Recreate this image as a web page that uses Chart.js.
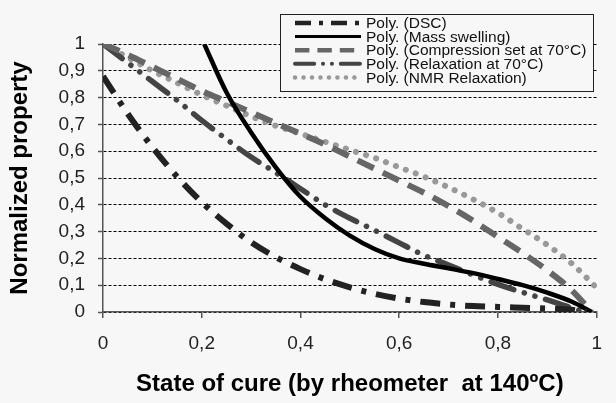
<!DOCTYPE html>
<html>
<head>
<meta charset="utf-8">
<script src="https://cdn.jsdelivr.net/npm/chart.js@4"></script>
<style>
  html, body { margin: 0; padding: 0; background: #f7f7f7; }
  #wrap { width: 616px; height: 403px; }
</style>
</head>
<body>
<div id="wrap"><canvas id="c" width="616" height="403"></canvas></div>
<script>
// axis ticks
const xTicks = [0, 0.2, 0.4, 0.6, 0.8, 1];
const yTicks = [0, 0.1, 0.2, 0.3, 0.4, 0.5, 0.6, 0.7, 0.8, 0.9, 1];

// trend curves (state of cure -> normalized property)
const dscX = [0, 0.05, 0.1, 0.15, 0.2, 0.25, 0.3, 0.35, 0.4, 0.45, 0.5, 0.55, 0.6, 0.65, 0.7, 0.75, 0.8, 0.85, 0.9, 0.95, 0.98];
const dscY = [0.88, 0.74, 0.615, 0.505, 0.41, 0.33, 0.26, 0.205, 0.16, 0.122, 0.092, 0.068, 0.05, 0.037, 0.028, 0.022, 0.019, 0.016, 0.013, 0.008, 0];

const swellX = [0.205, 0.25, 0.3, 0.35, 0.4, 0.45, 0.5, 0.55, 0.6, 0.65, 0.7, 0.75, 0.8, 0.85, 0.9, 0.95, 0.99];
const swellY = [1.0, 0.82, 0.67, 0.54, 0.43, 0.35, 0.285, 0.235, 0.2, 0.18, 0.163, 0.145, 0.123, 0.1, 0.072, 0.038, 0];

const compX = [0, 0.05, 0.1, 0.15, 0.2, 0.25, 0.3, 0.35, 0.4, 0.45, 0.5, 0.55, 0.6, 0.65, 0.7, 0.75, 0.8, 0.85, 0.9, 0.95, 0.99];
const compY = [1.0, 0.96, 0.915, 0.87, 0.825, 0.785, 0.745, 0.705, 0.665, 0.625, 0.58, 0.535, 0.49, 0.445, 0.395, 0.34, 0.28, 0.22, 0.155, 0.08, 0];

const relaxX = [0, 0.05, 0.1, 0.15, 0.2, 0.25, 0.3, 0.35, 0.4, 0.45, 0.5, 0.55, 0.6, 0.65, 0.7, 0.75, 0.8, 0.85, 0.9, 0.95, 0.975];
const relaxY = [1.0, 0.93, 0.86, 0.79, 0.715, 0.645, 0.578, 0.52, 0.46, 0.40, 0.35, 0.305, 0.258, 0.212, 0.175, 0.138, 0.103, 0.073, 0.045, 0.015, 0];

const nmrX = [0, 0.05, 0.1, 0.15, 0.2, 0.25, 0.3, 0.35, 0.4, 0.45, 0.5, 0.55, 0.6, 0.65, 0.7, 0.75, 0.8, 0.85, 0.9, 0.95, 1.0];
const nmrY = [1.0, 0.95, 0.9, 0.855, 0.81, 0.77, 0.73, 0.695, 0.665, 0.635, 0.605, 0.575, 0.54, 0.505, 0.465, 0.42, 0.37, 0.31, 0.25, 0.18, 0.09];

const names = ["Poly. (DSC)", "Poly. (Mass swelling)", "Poly. (Compression set at 70°C)", "Poly. (Relaxation at 70°C)", "Poly. (NMR Relaxation)"];

const BG = "#f7f7f7";
const FONT = "'Liberation Sans', Arial, sans-serif";

const pts = (xs, ys) => xs.map((x, i) => ({ x, y: ys[i] }));
const comma = v => String(Math.round(v * 10) / 10).replace(".", ",");

const styles = [
  { color: "#222", width: 6, dash: [20, 10, 5, 10], cap: "butt" },
  { color: "#000", width: 4.5, dash: [], cap: "butt" },
  { color: "#666", width: 6, dash: [18, 10], cap: "butt" },
  { color: "#444", width: 5.5, dash: [24, 11, 0.1, 11, 0.1, 11], cap: "round" },
  { color: "#999", width: 6, dash: [0.1, 10.5], cap: "round" }
];
const series = [pts(dscX, dscY), pts(swellX, swellY), pts(compX, compY), pts(relaxX, relaxY), pts(nmrX, nmrY)];

// legend box drawn with the real line styles
const legendBox = {
  id: "legendBox",
  afterDraw(chart) {
    const ctx = chart.ctx;
    const x0 = 280, y0 = 14, w = 313, h = 77;
    ctx.save();
    ctx.fillStyle = BG;
    ctx.fillRect(x0, y0, w, h);
    ctx.strokeStyle = "#222";
    ctx.lineWidth = 1;
    ctx.strokeRect(x0 + 0.5, y0 + 0.5, w, h);
    ctx.font = "15.5px " + FONT;
    ctx.textBaseline = "middle";
    names.forEach((n, i) => {
      const y = y0 + 9 + i * 13.6;
      const s = styles[i];
      ctx.beginPath();
      ctx.strokeStyle = s.color;
      ctx.lineWidth = s.width - 1.5;
      ctx.lineCap = s.cap;
      ctx.setLineDash(s.dash.map(d => d * 0.8));
      ctx.moveTo(295, y);
      ctx.lineTo(361, y);
      ctx.stroke();
      ctx.setLineDash([]);
      ctx.fillStyle = "#111";
      ctx.fillText(n, 366, y + 1);
    });
    ctx.restore();
  }
};

new Chart(document.getElementById("c"), {
  type: "scatter",
  data: {
    datasets: series.map((data, i) => ({
      label: names[i],
      data,
      showLine: true,
      pointRadius: 0,
      borderColor: styles[i].color,
      borderWidth: styles[i].width,
      borderDash: styles[i].dash,
      borderCapStyle: styles[i].cap,
      cubicInterpolationMode: "monotone"
    }))
  },
  options: {
    responsive: false,
    animation: false,
    layout: { padding: { top: 44, right: 16, left: 0, bottom: 0 } },
    plugins: { legend: { display: false }, tooltip: { enabled: false } },
    scales: {
      x: {
        type: "linear",
        min: 0,
        max: 1,
        afterBuildTicks: s => { s.ticks = xTicks.map(v => ({ value: v })); },
        afterFit: s => { s.height = 91; },
        ticks: { callback: comma, color: "#222", padding: 14, font: { family: FONT, size: 19 }, maxRotation: 0 },
        grid: { drawOnChartArea: false, drawTicks: true, tickLength: 6, color: "#555", lineWidth: 1.5 },
        border: { color: "#555", width: 1.5 },
        title: { display: true, text: "State of cure (by rheometer  at 140ºC)", color: "#000", padding: { top: 0, bottom: 4 }, font: { family: FONT, size: 24, weight: "bold" } }
      },
      y: {
        min: 0,
        max: 1,
        afterBuildTicks: s => { s.ticks = yTicks.map(v => ({ value: v })); },
        afterFit: s => { s.width = 103; },
        ticks: { callback: comma, color: "#222", padding: 13, font: { family: FONT, size: 19 } },
        grid: { color: "#000", lineWidth: 1, tickLength: 5, tickColor: "#555", tickWidth: 1.5 },
        border: { color: "#555", width: 1.5, dash: [3, 2] },
        title: { display: true, text: "Normalized property", color: "#000", padding: { top: 6, bottom: 0 }, font: { family: FONT, size: 24, weight: "bold" } }
      }
    }
  },
  plugins: [legendBox]
});
</script>
</body>
</html>
